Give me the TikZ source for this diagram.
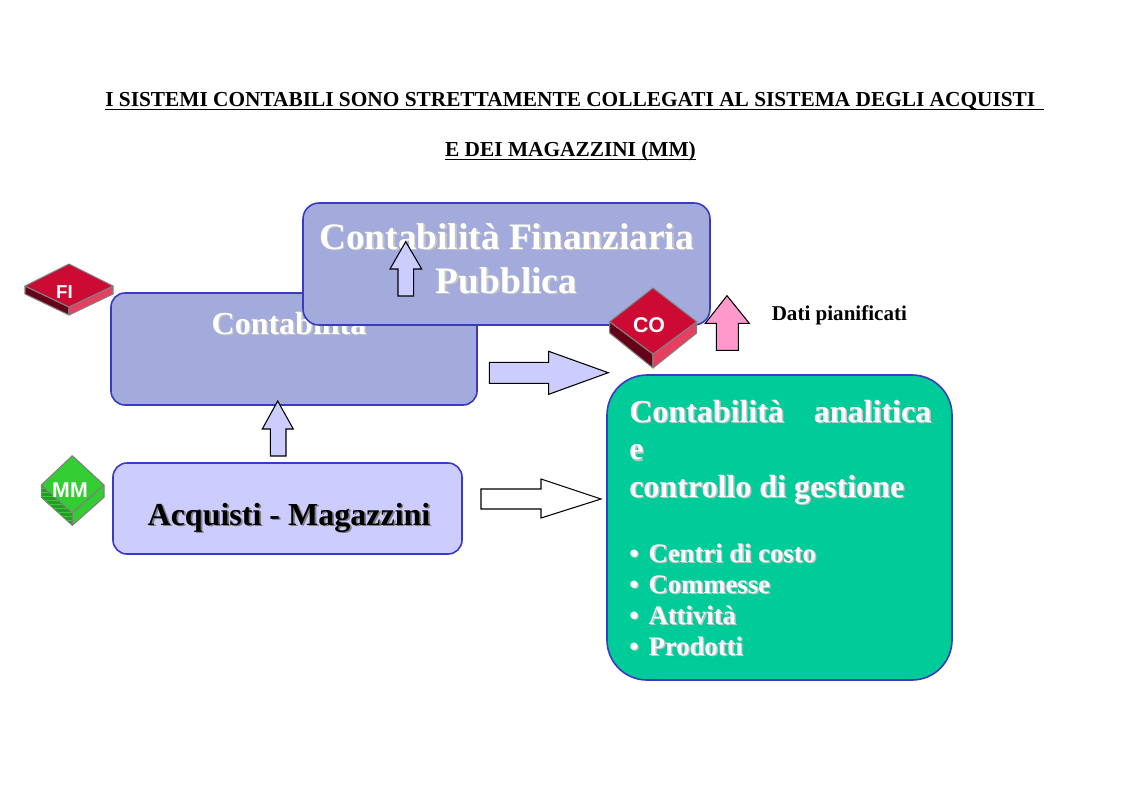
\documentclass[tikz,border=0pt]{standalone}
\usepackage{fontspec}
\setmainfont{Liberation Serif}
\newfontfamily\lsans{Liberation Sans}
\usetikzlibrary{patterns}
\definecolor{boxblue}{HTML}{A2ABDC}
\definecolor{edgeblue}{HTML}{3A3AC4}
\definecolor{lightblue}{HTML}{CCCCFF}
\definecolor{tealgreen}{HTML}{00CC99}
\definecolor{redtop}{HTML}{CC0A33}
\definecolor{redleft}{HTML}{660019}
\definecolor{redright}{HTML}{E63F60}
\definecolor{greentop}{HTML}{33CC33}
\definecolor{pinkarrow}{HTML}{FF99CC}
\definecolor{shadegray}{HTML}{C4C4C4}
\newcommand{\shd}[1]{\leavevmode\rlap{\kern1.1pt\raisebox{-1.1pt}{\textcolor{shadegray}{#1}}}#1}
\newcommand{\shdb}[1]{\leavevmode\rlap{\kern1.3pt\raisebox{-1.3pt}{\textcolor{gray}{#1}}}\textcolor{black}{#1}}
\tikzset{
  panel/.style={draw=edgeblue,line width=1.2pt,fill=boxblue},
  blockarrow/.style={draw=black,line width=0.8pt,fill=lightblue,line join=miter},
  whitetxt/.style={text=white,inner sep=0pt,font=\bfseries},
  blacktxt/.style={text=black,inner sep=0pt,font=\bfseries},
  facetop/.style={draw=gray,line width=0.8pt,line join=round},
  chiplabel/.style={text=white,inner sep=0pt}
}
\begin{document}
\begin{tikzpicture}[x=0.75pt,y=-0.75pt]
\useasboundingbox (0,0) rectangle (1123,793);
\fill[white] (0,0) rectangle (1123,793);

% title
\node[blacktxt,anchor=base west,font=\bfseries\fontsize{16}{18}\selectfont] (t1) at (105,106) {I SISTEMI CONTABILI SONO STRETTAMENTE COLLEGATI AL SISTEMA DEGLI ACQUISTI\kern6pt\hbox{}};
\node[blacktxt,anchor=base,font=\bfseries\fontsize{16}{18}\selectfont] (t2) at (570.5,156) {E DEI MAGAZZINI (MM)};
\draw[line width=1.1pt] ([yshift=-2.6pt]t1.base west) -- ([yshift=-2.6pt]t1.base east);
\draw[line width=1.1pt] ([yshift=-2.6pt]t2.base west) -- ([yshift=-2.6pt]t2.base east);

% Contabilita
\path[panel,rounded corners=10.5pt] (111,293) rectangle (477,405);
\node[whitetxt,anchor=base,font=\bfseries\fontsize{24}{28}\selectfont] (cont) at (289,334) {\shd{Contabilità}};

% Finanziaria
\path[panel,rounded corners=12pt] (303,203) rectangle (710,325);
\node[whitetxt,align=center,font=\bfseries\fontsize{28}{33}\selectfont] (fin) at (506.5,259.5) {\shd{Contabilità Finanziaria}\\\shd{Pubblica}};

% arrow on Finanziaria
\path[blockarrow] (405.7,241.7) -- (421.7,269) -- (413.7,269) -- (413.7,296) -- (398,296) -- (398,269) -- (390,269) -- cycle;

% Acquisti
\path[panel,fill=lightblue,rounded corners=10.5pt] (113,463) rectangle (462,554);
\node[blacktxt,anchor=base,font=\bfseries\fontsize{24}{28}\selectfont] (acq) at (289,525) {\shdb{Acquisti - Magazzini}};

% green box
\path[panel,fill=tealgreen,rounded corners=30pt] (607,375) rectangle (952,680);
\node[whitetxt,anchor=north west,align=left,font=\bfseries\fontsize{24}{28.1}\selectfont] (head) at (629,400) {\hbox to 226.5pt{\shd{Contabilità}\hfill\shd{analitica}}\\\shd{e}\\\shd{controllo di gestione}};
\node[whitetxt,anchor=north west,align=left,font=\bfseries\fontsize{20}{23.3}\selectfont] (list) at (629,543.5) {\shd{•}\hspace{7.5pt}\shd{Centri di costo}\\\shd{•}\hspace{7.5pt}\shd{Commesse}\\\shd{•}\hspace{7.5pt}\shd{Attività}\\\shd{•}\hspace{7.5pt}\shd{Prodotti}};

% block arrows
\path[blockarrow] (489.3,362.3) -- (548.7,362.3) -- (548.7,351.3) -- (608.3,372.7) -- (548.7,394.3) -- (548.7,383.3) -- (489.3,383.3) -- cycle;
\path[blockarrow] (277.7,401) -- (293.3,429) -- (286,429) -- (286,456) -- (270.3,456) -- (270.3,429) -- (262.3,429) -- cycle;
\path[blockarrow,fill=white] (481,489) -- (541,489) -- (541,479) -- (601,499) -- (541,518) -- (541,509) -- (481,509) -- cycle;
\path[blockarrow,fill=pinkarrow] (727,295.7) -- (749.3,323.3) -- (738.3,323.3) -- (738.3,350.3) -- (716.3,350.3) -- (716.3,323.3) -- (705.3,323.3) -- cycle;

\node[blacktxt,anchor=base west,font=\bfseries\fontsize{15.8}{18}\selectfont] (dati) at (771.5,320) {Dati pianificati};

% FI chip
\path[facetop,fill=redleft] (25,286) -- (69,307) -- (69,315) -- (25,294) -- cycle;
\path[facetop,fill=redright] (113,286) -- (69,307) -- (69,315) -- (113,294) -- cycle;
\path[facetop,fill=redtop] (69,264) -- (113,286) -- (69,307) -- (25,286) -- cycle;
\node[chiplabel,font=\lsans\bfseries\fontsize{14}{16}\selectfont] (fi) at (64.5,292) {FI};

% CO chip
\path[facetop,fill=redleft] (609.7,321.7) -- (653,354) -- (653,368) -- (609.7,333) -- cycle;
\path[facetop,fill=redright] (696.7,321.7) -- (653,354) -- (653,368) -- (696.7,333) -- cycle;
\path[facetop,fill=redtop] (653,288) -- (696.7,321.7) -- (653,354) -- (609.7,321.7) -- cycle;
\node[chiplabel,font=\lsans\bfseries\fontsize{16}{18}\selectfont] (co) at (649,325) {CO};

% MM chip
\path[facetop,fill=greentop!75!black] (41.3,485) -- (72.3,512.7) -- (72.3,525.3) -- (41.3,497.3) -- cycle;
\path[pattern=horizontal lines,pattern color=greentop] (41.3,485) -- (72.3,512.7) -- (72.3,525.3) -- (41.3,497.3) -- cycle;
\path[facetop,fill=greentop] (104,485) -- (72.3,512.7) -- (72.3,525.3) -- (104,497.3) -- cycle;
\path[facetop,fill=greentop] (72.3,455.7) -- (104,485) -- (72.3,512.7) -- (41.3,485) -- cycle;
\node[chiplabel,font=\lsans\bfseries\fontsize{16}{18}\selectfont] (mm) at (70,490.5) {MM};
\end{tikzpicture}
\end{document}
